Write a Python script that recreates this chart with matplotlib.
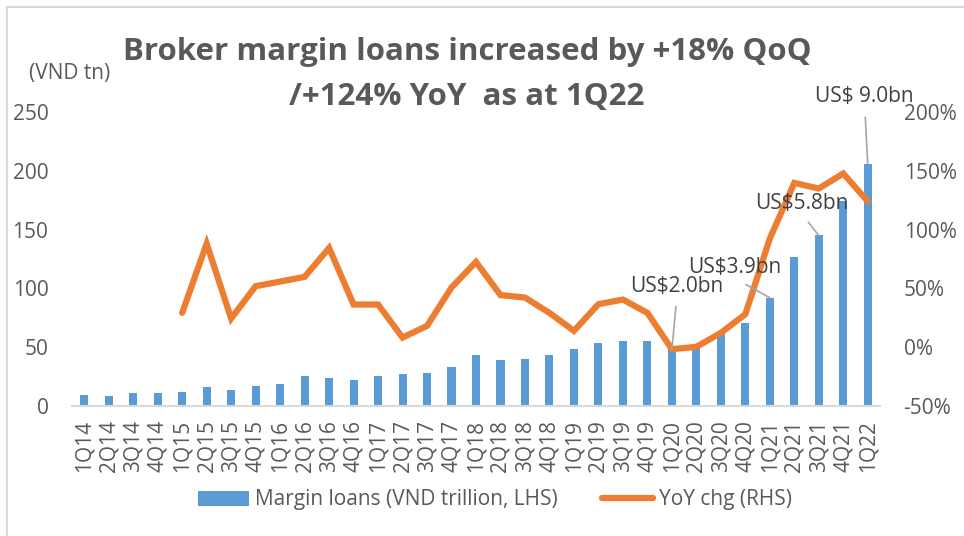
import matplotlib
matplotlib.use("Agg")
import matplotlib.pyplot as plt
from matplotlib.lines import Line2D
from matplotlib.patches import Patch

# ── Data ──────────────────────────────────────────────────────────────────────
quarters = ["1Q14", "2Q14", "3Q14", "4Q14", "1Q15", "2Q15", "3Q15", "4Q15",
            "1Q16", "2Q16", "3Q16", "4Q16", "1Q17", "2Q17", "3Q17", "4Q17",
            "1Q18", "2Q18", "3Q18", "4Q18", "1Q19", "2Q19", "3Q19", "4Q19",
            "1Q20", "2Q20", "3Q20", "4Q20", "1Q21", "2Q21", "3Q21", "4Q21",
            "1Q22"]
margin_loans = [9.4, 8.5, 11.0, 11.3, 12.2, 16.2, 13.3, 16.7,
                19.0, 25.5, 24.0, 22.0, 25.2, 27.5, 28.3, 33.4,
                43.4, 39.4, 39.7, 43.1, 48.7, 53.3, 55.3, 55.3,
                48.2, 50.5, 61.0, 70.6, 92.0, 127.0, 145.0, 174.4,
                205.8]
yoy_chg = [None, None, None, None, 29.2, 88.1, 24.4, 51.9,
           55.8, 59.8, 84.4, 36.3, 36.3, 8.2, 18.1, 50.8,
           72.5, 44.3, 42.2, 29.2, 13.9, 36.6, 40.5, 29.2,
           -1.7, 0.3, 12.2, 28.0, 92.4, 139.7, 134.9, 147.7,
           124.0]
usd_labels = {"1Q20": "US$2.0bn", "1Q21": "US$3.9bn",
              "3Q21": "US$5.8bn", "1Q22": "US$ 9.0bn"}
# text offsets for the callouts, in pixels from the bar top
label_offsets = {"1Q20": (5, 63), "1Q21": (-35, 30),
                 "3Q21": (-17, 32), "1Q22": (-3, 67)}

# ── Style ─────────────────────────────────────────────────────────────────────
BAR_C  = "#5B9BD5"
LINE_C = "#ED7D31"
TXT_C  = "#595959"
GRID_C = "#D9D9D9"
FS     = 15

plt.rcParams["font.family"] = ["Open Sans", "DejaVu Sans"]

fig = plt.figure(figsize=(9.64, 5.36), dpi=100)
ax = fig.add_axes([72 / 964, 130 / 536, 808 / 964, 294 / 536])
ax2 = ax.twinx()

x = list(range(len(quarters)))
ax.bar(x, margin_loans, width=0.33, color=BAR_C, zorder=2)
yx = [i for i, v in zip(x, yoy_chg) if v is not None]
yv = [v for v in yoy_chg if v is not None]
ax2.plot(yx, yv, color=LINE_C, linewidth=4.5, solid_capstyle="round",
         solid_joinstyle="miter", zorder=3)

ax.set_xlim(-0.5, len(quarters) - 0.5)
ax.set_ylim(0, 250)
ax2.set_ylim(-50, 200)
ax.set_yticks(range(0, 251, 50))
ax2.set_yticks(range(-50, 201, 50))
ax2.set_yticklabels([f"{v}%" for v in range(-50, 201, 50)])
ax.set_xticks(x)
ax.set_xticklabels(quarters, rotation=90)

for a in (ax, ax2):
    for s in a.spines.values():
        s.set_visible(False)
    a.tick_params(length=0, labelsize=FS, colors=TXT_C)
ax.spines["bottom"].set_visible(True)
ax.spines["bottom"].set_color(GRID_C)
ax.spines["bottom"].set_linewidth(1.5)
ax.tick_params(axis="y", pad=17)
ax2.tick_params(axis="y", pad=17)
ax.tick_params(axis="x", pad=10)

# US$ callouts
for q, txt in usd_labels.items():
    i = quarters.index(q)
    ax2.annotate(txt, xy=(i, margin_loans[i]), xycoords=ax.transData,
                 xytext=label_offsets[q], textcoords="offset pixels",
                 ha="center", va="center", fontsize=FS, color="#404040",
                 zorder=5,
                 arrowprops=dict(arrowstyle="-", color="#A6A6A6", lw=1.2,
                                 shrinkA=5, shrinkB=0, relpos=(0.5, 0)))

# titles
fig.text(467 / 964, 1 - 52 / 536, "Broker margin loans increased by +18% QoQ",
         ha="center", va="center", fontsize=22.5, fontweight="bold", color=TXT_C)
fig.text(467 / 964, 1 - 97 / 536, "/+124% YoY  as at 1Q22",
         ha="center", va="center", fontsize=22.5, fontweight="bold", color=TXT_C)
fig.text(70 / 964, 1 - 74 / 536, "(VND tn)", ha="center", va="center",
         fontsize=FS, color=TXT_C)

# legend
handles = [Patch(facecolor=BAR_C, edgecolor="none"),
           Line2D([0], [0], color=LINE_C, linewidth=4.5, solid_capstyle="round")]
fig.legend(handles, ["Margin loans (VND trillion, LHS)", "YoY chg (RHS)"],
           loc="center", bbox_to_anchor=(495 / 964, 36 / 536), ncol=2,
           frameon=False, fontsize=FS, labelcolor=TXT_C, handlelength=2.45,
           handletextpad=0.3, columnspacing=2.1)

# chart frame (top and left edges only)
fig.add_artist(Line2D([7 / 964, 1], [1 - 7 / 536, 1 - 7 / 536],
                      color=GRID_C, lw=1.5, transform=fig.transFigure))
fig.add_artist(Line2D([7 / 964, 7 / 964], [0, 1 - 7 / 536],
                      color=GRID_C, lw=1.5, transform=fig.transFigure))

fig.savefig("out.png", dpi=100)
